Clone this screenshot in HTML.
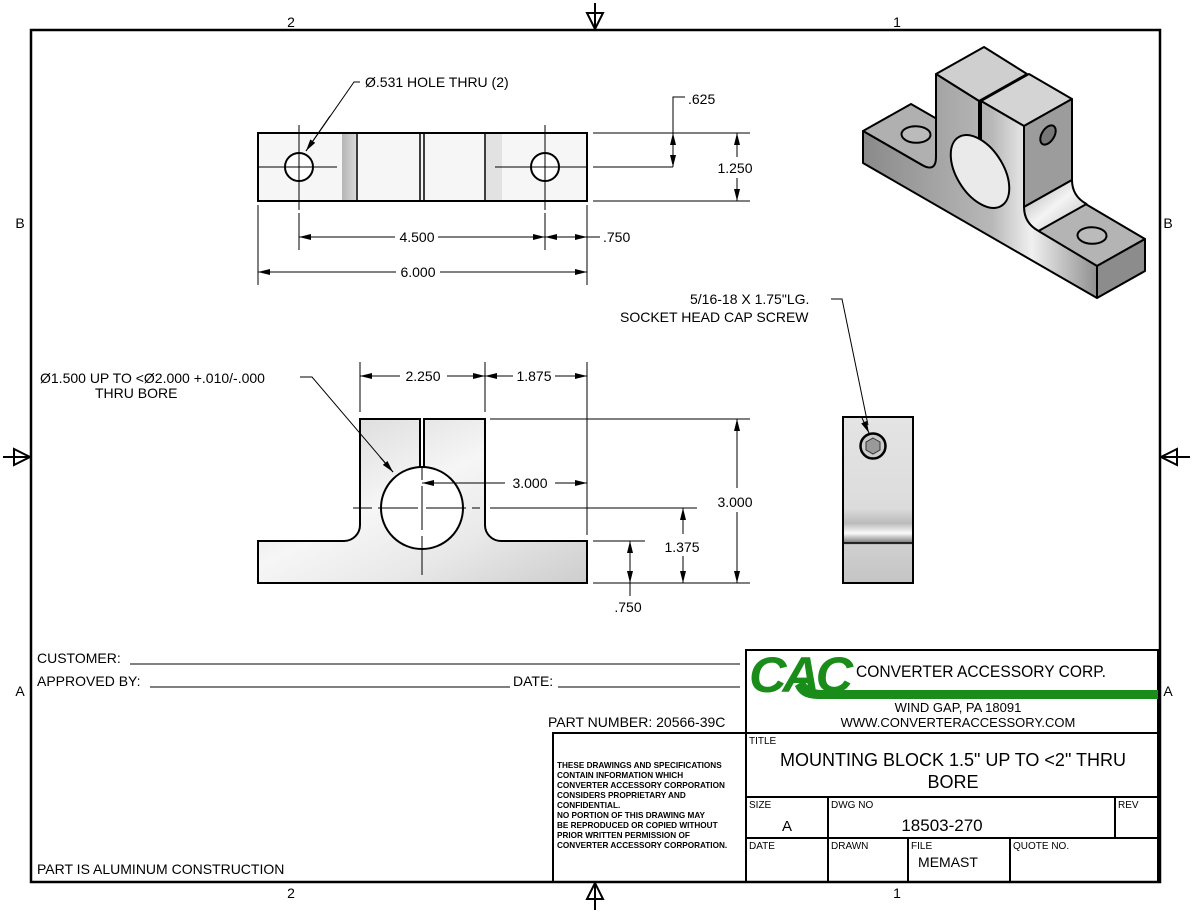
<!DOCTYPE html>
<html><head><meta charset="utf-8"><style>
html,body{margin:0;padding:0;background:#fff}
svg{display:block}
text{font-family:"Liberation Sans",Arial,sans-serif;fill:#000}
</style></head><body>
<svg width="1200" height="912" viewBox="0 0 1200 912" xmlns="http://www.w3.org/2000/svg">
<defs>
<marker id="a" viewBox="0 0 12 6" refX="12" refY="3" markerWidth="12" markerHeight="6" orient="auto-start-reverse" markerUnits="userSpaceOnUse"><path d="M0,0 L12,3 L0,6 z" fill="#000"/></marker>
<linearGradient id="g1" x1="0" y1="0" x2="1" y2="1"><stop offset="0" stop-color="#d2d2d2"/><stop offset="0.45" stop-color="#f6f6f6"/><stop offset="0.7" stop-color="#e8e8e8"/><stop offset="1" stop-color="#cdcdcd"/></linearGradient>
<linearGradient id="g2" x1="0" y1="0" x2="1" y2="0"><stop offset="0" stop-color="#8a8a8a"/><stop offset="0.55" stop-color="#b8b8b8"/><stop offset="0.72" stop-color="#f0f0f0"/><stop offset="1" stop-color="#909090"/></linearGradient>
<linearGradient id="g3" x1="0" y1="0" x2="1" y2="0"><stop offset="0" stop-color="#b5b5b5"/><stop offset="1" stop-color="#d8d8d8"/></linearGradient>
<linearGradient id="g4" x1="0" y1="0" x2="0" y2="1"><stop offset="0" stop-color="#e4e4e4"/><stop offset="0.55" stop-color="#dcdcdc"/><stop offset="0.64" stop-color="#bbb"/><stop offset="0.7" stop-color="#fafafa"/><stop offset="0.76" stop-color="#777"/><stop offset="0.77" stop-color="#d0d0d0"/><stop offset="1" stop-color="#c4c4c4"/></linearGradient>
<linearGradient id="g5" x1="0" y1="0" x2="1" y2="1"><stop offset="0" stop-color="#aaa"/><stop offset="0.5" stop-color="#f4f4f4"/><stop offset="1" stop-color="#bbb"/></linearGradient>
</defs>

<!-- border -->
<rect x="31" y="30" width="1129" height="852" fill="none" stroke="#000" stroke-width="2.5"/>
<text x="291" y="27" font-size="14" text-anchor="middle">2</text>
<text x="897" y="27" font-size="14" text-anchor="middle">1</text>
<text x="291" y="898" font-size="14" text-anchor="middle">2</text>
<text x="897" y="898" font-size="14" text-anchor="middle">1</text>
<text x="20" y="228" font-size="14" text-anchor="middle">B</text>
<text x="1168" y="228" font-size="14" text-anchor="middle">B</text>
<text x="20" y="696" font-size="14" text-anchor="middle">A</text>
<text x="1168" y="696" font-size="14" text-anchor="middle">A</text>
<g fill="none" stroke="#000" stroke-width="2">
<path d="M595,3V30M587,13H603L595,29Z"/>
<path d="M595,910V882M587,899H603L595,883Z"/>
<path d="M3,457H31M14,449V465L30,457Z"/>
<path d="M1190,457H1160M1177,449V465L1161,457Z"/>
</g>

<!-- TOP VIEW -->
<rect x="258" y="133" width="329" height="68" fill="#f6f6f6"/>
<rect x="342" y="134" width="14" height="66" fill="url(#g3)"/>
<rect x="486" y="134" width="16" height="66" fill="#e2e2e2"/>
<rect x="258" y="133" width="329" height="68" fill="none" stroke="#000" stroke-width="2"/>
<g stroke="#000" stroke-width="1.5"><line x1="357" y1="133" x2="357" y2="201"/><line x1="420" y1="133" x2="420" y2="201"/><line x1="424" y1="133" x2="424" y2="201"/><line x1="485" y1="133" x2="485" y2="201"/></g>
<circle cx="299" cy="167" r="14" fill="#fff" stroke="#000" stroke-width="2"/>
<circle cx="545" cy="167" r="14" fill="#fff" stroke="#000" stroke-width="2"/>
<g stroke="#000" stroke-width="1" fill="none">
<path d="M258,167H337M299,125V210M294,167H304M299,162V172"/>
<path d="M495,167H587M545,125V210M540,167H550M545,162V172"/>
<path d="M299,213V250M545,213V250M258,205V285M587,205V285"/>
<path d="M593,133H750M593,167H673M593,201H750"/>
<line x1="299" y1="237" x2="395" y2="237" marker-start="url(#a)"/>
<line x1="438" y1="237" x2="545" y2="237" marker-end="url(#a)"/>
<line x1="545" y1="237" x2="587" y2="237" marker-start="url(#a)" marker-end="url(#a)"/>
<line x1="587" y1="237" x2="600" y2="237"/>
<line x1="258" y1="272" x2="396" y2="272" marker-start="url(#a)"/>
<line x1="440" y1="272" x2="587" y2="272" marker-end="url(#a)"/>
<path d="M685,97H673V133" /><line x1="673" y1="133" x2="673" y2="167" marker-start="url(#a)" marker-end="url(#a)"/>
<line x1="737" y1="133" x2="737" y2="157" marker-start="url(#a)"/>
<line x1="737" y1="178" x2="737" y2="201" marker-end="url(#a)"/>
<path d="M360,82H354L306,151"/><line x1="330" y1="116" x2="306" y2="151" marker-end="url(#a)"/>
</g>
<text x="365" y="87" font-size="14">Ø.531 HOLE THRU (2)</text>
<text x="688" y="104" font-size="14">.625</text>
<text x="735" y="173" font-size="14" text-anchor="middle">1.250</text>
<text x="417" y="242" font-size="14" text-anchor="middle">4.500</text>
<text x="603" y="242" font-size="14">.750</text>
<text x="418" y="277" font-size="14" text-anchor="middle">6.000</text>

<!-- FRONT VIEW -->
<path d="M258,541H344A16,16 0 0 0 360,525V419H420V467A41,41 0 0 0 424,467V419H485V525A16,16 0 0 0 501,541H587V583H258Z" fill="url(#g1)" stroke="#000" stroke-width="2"/>
<circle cx="422" cy="508" r="41" fill="#fff" stroke="#000" stroke-width="2"/>
<g stroke="#000" stroke-width="1" fill="none">
<path d="M353,508H372M378,508H418M426,508H466M472,508H480M490,508H697"/>
<path d="M422,467V480M422,486V530M422,536V575"/>
<path d="M360,362V412M485,362V412M587,362V535"/>
<line x1="360" y1="376" x2="400" y2="376" marker-start="url(#a)"/>
<line x1="447" y1="376" x2="485" y2="376" marker-end="url(#a)"/>
<line x1="485" y1="376" x2="513" y2="376" marker-start="url(#a)"/>
<line x1="555" y1="376" x2="587" y2="376" marker-end="url(#a)"/>
<line x1="422" y1="483" x2="505" y2="483" marker-start="url(#a)"/>
<line x1="555" y1="483" x2="587" y2="483" marker-end="url(#a)"/>
<path d="M490,419H750M593,583H750M593,541H645"/>
<line x1="737" y1="419" x2="737" y2="488" marker-start="url(#a)"/>
<line x1="737" y1="512" x2="737" y2="583" marker-end="url(#a)"/>
<line x1="683" y1="508" x2="683" y2="534" marker-start="url(#a)"/>
<line x1="683" y1="556" x2="683" y2="583" marker-end="url(#a)"/>
<line x1="630" y1="541" x2="630" y2="583" marker-start="url(#a)" marker-end="url(#a)"/>
<line x1="630" y1="583" x2="630" y2="596"/>
<path d="M300,377H312L393,472"/><line x1="380" y1="457" x2="393" y2="472" marker-end="url(#a)"/>
</g>
<text x="40" y="383" font-size="14">Ø1.500 UP TO &lt;Ø2.000 +.010/-.000</text>
<text x="95" y="398" font-size="14">THRU BORE</text>
<text x="423" y="381" font-size="14" text-anchor="middle">2.250</text>
<text x="534" y="381" font-size="14" text-anchor="middle">1.875</text>
<text x="530" y="488" font-size="14" text-anchor="middle">3.000</text>
<text x="735" y="507" font-size="14" text-anchor="middle">3.000</text>
<text x="682" y="552" font-size="14" text-anchor="middle">1.375</text>
<text x="628" y="612" font-size="14" text-anchor="middle">.750</text>

<!-- SIDE VIEW -->
<rect x="843" y="417" width="70" height="166" fill="url(#g4)" stroke="#000" stroke-width="2"/>
<line x1="843" y1="543" x2="913" y2="543" stroke="#000" stroke-width="1.5"/>
<circle cx="873" cy="446" r="12.5" fill="#ccc" stroke="#000" stroke-width="2.5"/>
<polygon points="873,438 880,442 880,450 873,454 866,450 866,442" fill="#999" stroke="#333" stroke-width="1"/>
<g stroke="#000" stroke-width="1" fill="none"><path d="M831,299H842L868,425"/><line x1="862" y1="418" x2="869" y2="433" marker-end="url(#a)"/></g>
<text x="690" y="304" font-size="14">5/16-18 X 1.75"LG.</text>
<text x="620" y="322" font-size="14">SOCKET HEAD CAP SCREW</text>

<!-- ISOMETRIC -->
<g stroke="#000" stroke-width="2" stroke-linejoin="round">
<polygon points="863,131 936,173 984,146 911,104" fill="#b0b0b0"/>
<polygon points="1024,223 1097,266 1145,239 1072,196" fill="#b4b4b4"/>
<polygon points="1097,266 1145,239 1145,271 1097,298" fill="#8c8c8c"/>
<polygon points="936,74 979,101 1027,74 984,47" fill="#cfcfcf"/>
<polygon points="981,101 1024,126 1072,99 1029,74" fill="#d4d4d4"/>
<polygon points="1024,126 1072,99 1072,180 1024,207" fill="#9c9c9c"/>
<path d="M1024,207L1072,180Q1072,196 1086.5,204L1038.5,231Q1024,223 1024,207Z" fill="url(#g5)"/>
<path d="M863,163L1097,298V266L1038.5,231Q1024,223 1024,207V126L981,101V140L979,139V101L936,74V157Q936,173 921.5,164.75L863,131Z" fill="url(#g2)"/>
<circle r="1" transform="matrix(29.25,16.9,0,-32.25,980,171.5)" fill="#eaeaea" stroke="#000" stroke-width="2" vector-effect="non-scaling-stroke"/>
<circle r="1" transform="matrix(10.3,6,10.2,-5.7,916,134.5)" fill="#bbb" stroke="#000" stroke-width="2" vector-effect="non-scaling-stroke"/>
<circle r="1" transform="matrix(10.3,6,10.2,-5.7,1092,235.5)" fill="#bbb" stroke="#000" stroke-width="2" vector-effect="non-scaling-stroke"/>
<circle r="1" transform="matrix(7.7,-4.3,0,-8.6,1048,135)" fill="#777" stroke="#000" stroke-width="2" vector-effect="non-scaling-stroke"/>
</g>

<!-- LEFT NOTES -->
<text x="37" y="663" font-size="14">CUSTOMER:</text>
<line x1="130" y1="664" x2="740" y2="664" stroke="#000" stroke-width="1"/>
<text x="37" y="686" font-size="14">APPROVED BY:</text>
<line x1="150" y1="687" x2="510" y2="687" stroke="#000" stroke-width="1"/>
<text x="513" y="686" font-size="14">DATE:</text>
<line x1="558" y1="687" x2="740" y2="687" stroke="#000" stroke-width="1"/>
<text x="548" y="727" font-size="14">PART NUMBER: 20566-39C</text>
<text x="37" y="874" font-size="14">PART IS ALUMINUM CONSTRUCTION</text>

<!-- TITLE BLOCK -->
<g fill="none" stroke="#000" stroke-width="2">
<rect x="746" y="650" width="412" height="232"/>
<rect x="553" y="733" width="193" height="149"/>
<path d="M746,733H1158M746,797H1158M746,838H1158M828,797V882M908,838V882M1010,838V882M1115,797V838"/>
</g>
<g font-family="Liberation Sans, sans-serif" font-size="8.2" font-weight="bold">
<text x="557" y="768">THESE DRAWINGS AND SPECIFICATIONS</text>
<text x="557" y="778">CONTAIN INFORMATION WHICH</text>
<text x="557" y="788">CONVERTER ACCESSORY CORPORATION</text>
<text x="557" y="798">CONSIDERS PROPRIETARY AND</text>
<text x="557" y="808">CONFIDENTIAL.</text>
<text x="557" y="818">NO PORTION OF THIS DRAWING MAY</text>
<text x="557" y="828">BE REPRODUCED OR COPIED WITHOUT</text>
<text x="557" y="838">PRIOR WRITTEN PERMISSION OF</text>
<text x="557" y="848">CONVERTER ACCESSORY CORPORATION.</text>
</g>
<path d="M795,686Q800,699 818,699H1158V690H822Q808,690 804,680Z" fill="#1a8c1a"/>
<text x="749" y="692" font-size="50" font-weight="bold" font-style="italic" style="fill:#1a8c1a" letter-spacing="-4" textLength="100" lengthAdjust="spacingAndGlyphs">CAC</text>
<text x="856" y="677" font-size="16.5" textLength="250" lengthAdjust="spacingAndGlyphs">CONVERTER ACCESSORY CORP.</text>
<text x="958" y="712" font-size="13" text-anchor="middle">WIND GAP, PA 18091</text>
<text x="958" y="727" font-size="13" text-anchor="middle">WWW.CONVERTERACCESSORY.COM</text>
<text x="749" y="744" font-size="10">TITLE</text>
<text x="953" y="766" font-size="18" text-anchor="middle">MOUNTING BLOCK 1.5" UP TO &lt;2" THRU</text>
<text x="953" y="788" font-size="18" text-anchor="middle">BORE</text>
<text x="749" y="808" font-size="10">SIZE</text>
<text x="787" y="831" font-size="15" text-anchor="middle">A</text>
<text x="831" y="808" font-size="10">DWG NO</text>
<text x="942" y="831" font-size="17" text-anchor="middle">18503-270</text>
<text x="1118" y="808" font-size="10">REV</text>
<text x="749" y="849" font-size="10">DATE</text>
<text x="831" y="849" font-size="10">DRAWN</text>
<text x="911" y="849" font-size="10">FILE</text>
<text x="948" y="867" font-size="14" text-anchor="middle">MEMAST</text>
<text x="1013" y="849" font-size="10">QUOTE NO.</text>
</svg>
</body></html>
